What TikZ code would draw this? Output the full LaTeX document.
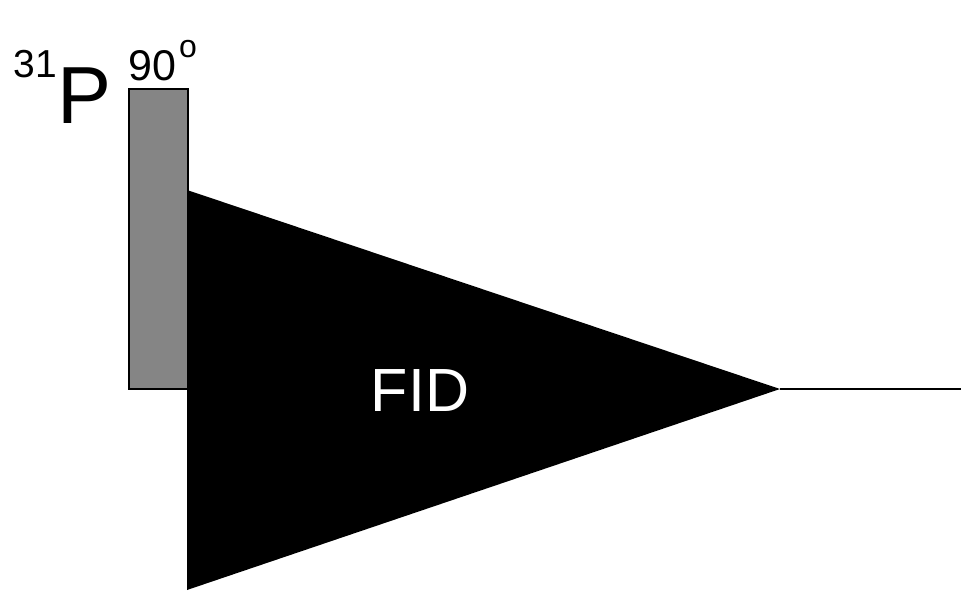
\documentclass[tikz,border=0pt]{standalone}
\usepackage{fontspec}
\setmainfont{Liberation Sans}
\definecolor{pulsegray}{HTML}{858585}
\tikzset{
  lbl/.style={inner sep=0pt, anchor=base west},
  pulsebox/.style={draw=black, line width=1.8pt, fill=pulsegray, inner sep=0pt, anchor=north west},
}
\begin{document}
\begin{tikzpicture}[x=1pt,y=-1pt]
\useasboundingbox (0,0) rectangle (961,592);
% FID triangle
\coordinate (fidtop) at (187,190);
\coordinate (fidtip) at (780,389);
\coordinate (fidbot) at (187,590);
\coordinate (lineend) at (961,389);
\fill[black] (fidtop) -- (fidtip) -- (fidbot) -- cycle;
\draw[line width=2pt] (fidtip) -- (lineend);
% pulse
\node[pulsebox, minimum width=59pt, minimum height=300pt] (pulse) at (128,88) {};
% labels
\node[lbl, font=\fontsize{39}{44}\selectfont] (iso) at (13.5,77) {31};
\node[lbl, font=\fontsize{81}{90}\selectfont] (nuc) at (57,123) {P};
\node[lbl, font=\fontsize{43}{48}\selectfont] (ang) at (128,80) {90};
\node[lbl, font=\fontsize{32}{38}\selectfont] (deg) at (179,57) {o};
\node[inner sep=0pt, text=white, font=\fontsize{61}{70}\selectfont] (fid) at (420,391) {FID};
\end{tikzpicture}
\end{document}
